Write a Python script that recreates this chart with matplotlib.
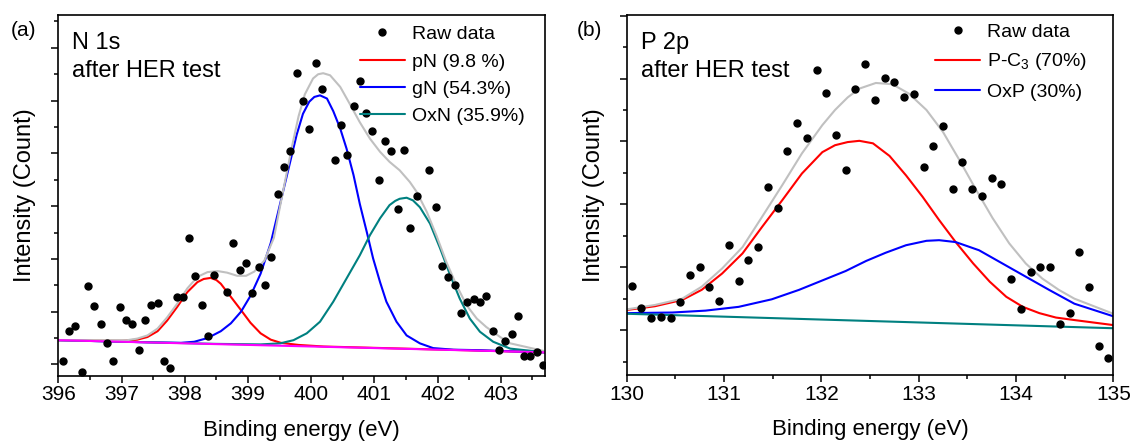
import matplotlib
matplotlib.use("Agg")
import matplotlib.pyplot as plt
from matplotlib.ticker import MultipleLocator, NullFormatter

plt.rcParams['font.family'] = ['Liberation Sans', 'DejaVu Sans']
plt.rcParams['mathtext.default'] = 'regular'

# ---------------- (a) N 1s ----------------
n_raw_x = [396.07, 396.17, 396.27, 396.37, 396.47, 396.57, 396.67, 396.77, 396.87, 396.97,
           397.07, 397.17, 397.27, 397.37, 397.47, 397.57, 397.67, 397.77, 397.87, 397.97,
           398.07, 398.17, 398.27, 398.37, 398.47, 398.67, 398.77, 398.87, 398.97, 399.07,
           399.17, 399.27, 399.37, 399.47, 399.57, 399.67, 399.77, 399.87, 399.97, 400.07,
           400.17, 400.37, 400.47, 400.57, 400.67, 400.77, 400.87, 400.97, 401.07, 401.17,
           401.27, 401.37, 401.47, 401.57, 401.67, 401.87, 401.97, 402.07, 402.17, 402.27,
           402.37, 402.47, 402.57, 402.67, 402.77, 402.87, 402.97, 403.07, 403.17, 403.27,
           403.37, 403.47, 403.57, 403.67]
n_raw_y = [0.06, 0.63, 0.73, -0.15, 1.48, 1.10, 0.77, 0.40, 0.07, 1.09,
           0.85, 0.76, 0.27, 0.85, 1.12, 1.16, 0.06, -0.07, 1.27, 1.28,
           2.40, 1.67, 1.12, 0.54, 1.70, 1.37, 2.31, 1.79, 1.92, 1.35,
           1.85, 1.51, 2.03, 3.24, 3.74, 4.04, 5.52, 4.99, 4.47, 5.71,
           5.23, 3.88, 4.53, 3.97, 4.90, 5.38, 4.77, 4.42, 3.49, 4.24,
           4.05, 2.94, 4.07, 2.58, 3.20, 3.69, 2.99, 1.87, 1.65, 1.50,
           0.97, 1.18, 1.24, 1.19, 1.30, 0.63, 0.27, 0.44, 0.57, 0.92,
           0.16, 0.16, 0.24, -0.01]

pn_x = [396.0, 397.0, 397.25, 397.41, 397.57, 397.72, 397.88, 398.04, 398.20, 398.30,
        398.41, 398.50, 398.57, 398.73, 398.89, 399.04, 399.20, 399.36, 399.52, 399.80,
        400.20, 403.70]
pn_y = [0.46, 0.45, 0.47, 0.52, 0.63, 0.83, 1.09, 1.37, 1.56, 1.62,
        1.64, 1.60, 1.53, 1.28, 1.03, 0.79, 0.59, 0.47, 0.41, 0.37,
        0.34, 0.23]

gn_x = [396.0, 397.4, 397.94, 398.15, 398.36, 398.57, 398.73, 398.89, 399.04, 399.20,
        399.36, 399.47, 399.56, 399.67, 399.77, 399.87, 399.97, 400.05, 400.14, 400.25,
        400.35, 400.46, 400.56, 400.67, 400.77, 400.88, 400.98, 401.09, 401.19, 401.35,
        401.51, 401.72, 401.93, 402.25, 402.67, 403.15, 403.70]
gn_y = [0.46, 0.42, 0.41, 0.43, 0.50, 0.63, 0.78, 1.00, 1.30, 1.72,
        2.30, 2.85, 3.30, 3.85, 4.35, 4.75, 4.98, 5.07, 5.10, 5.04,
        4.80, 4.47, 4.09, 3.59, 3.04, 2.51, 2.01, 1.56, 1.19, 0.81,
        0.55, 0.40, 0.31, 0.28, 0.27, 0.25, 0.23]

oxn_x = [396.0, 398.5, 399.2, 399.51, 399.72, 399.93, 400.14, 400.35, 400.56, 400.77,
         400.93, 401.09, 401.24, 401.33, 401.40, 401.51, 401.61, 401.72, 401.88, 402.04,
         402.20, 402.35, 402.51, 402.67, 402.88, 403.15, 403.70]
oxn_y = [0.46, 0.39, 0.38, 0.40, 0.46, 0.59, 0.81, 1.19, 1.63, 2.07,
         2.45, 2.77, 3.02, 3.10, 3.14, 3.16, 3.11, 2.98, 2.67, 2.20,
         1.69, 1.25, 0.87, 0.62, 0.43, 0.30, 0.23]

n_env_x = [396.0, 397.09, 397.25, 397.41, 397.57, 397.72, 397.88, 398.04, 398.20, 398.36,
           398.52, 398.67, 398.83, 398.97, 399.10, 399.26, 399.41, 399.50, 399.60, 399.70,
           399.80, 399.90, 400.03, 400.11, 400.19, 400.30, 400.46, 400.61, 400.77, 400.93,
           401.09, 401.24, 401.40, 401.56, 401.67, 401.83, 401.98, 402.14, 402.30, 402.46,
           402.62, 402.77, 402.99, 403.15, 403.70]
n_env_y = [0.46, 0.46, 0.49, 0.55, 0.68, 0.89, 1.15, 1.44, 1.66, 1.75,
           1.77, 1.74, 1.68, 1.68, 1.76, 1.97, 2.40, 2.95, 3.55, 4.15,
           4.70, 5.12, 5.42, 5.50, 5.52, 5.48, 5.26, 4.94, 4.59, 4.28,
           4.03, 3.84, 3.68, 3.46, 3.27, 2.89, 2.45, 1.94, 1.50, 1.12,
           0.87, 0.71, 0.52, 0.40, 0.25]

n_bg_x = [396.0, 403.7]
n_bg_y = [0.46, 0.23]

# ---------------- (b) P 2p ----------------
p_raw_x = [130.05, 130.15, 130.25, 130.35, 130.45, 130.55, 130.65, 130.75, 130.85, 130.95,
           131.05, 131.15, 131.25, 131.35, 131.45, 131.55, 131.65, 131.75, 131.85, 131.95,
           132.05, 132.15, 132.25, 132.35, 132.45, 132.55, 132.65, 132.75, 132.85, 132.95,
           133.05, 133.15, 133.25, 133.35, 133.45, 133.55, 133.65, 133.75, 133.85, 133.95,
           134.05, 134.15, 134.25, 134.35, 134.45, 134.55, 134.65, 134.75, 134.85, 134.95]
p_raw_y = [0.70, 0.35, 0.19, 0.21, 0.19, 0.44, 0.87, 1.00, 0.68, 0.47,
           1.35, 0.78, 1.11, 1.32, 2.27, 1.94, 2.85, 3.30, 3.06, 4.13,
           3.77, 3.11, 2.54, 3.83, 4.23, 3.66, 4.01, 3.95, 3.70, 3.75,
           2.59, 2.92, 3.25, 2.24, 2.68, 2.24, 2.14, 2.42, 2.33, 0.81,
           0.33, 0.92, 1.00, 1.00, 0.10, 0.28, 1.25, 0.68, -0.26, -0.44]

pc3_x = [130.0, 130.29, 130.57, 130.77, 130.98, 131.19, 131.39, 131.60, 131.80, 132.01,
         132.14, 132.27, 132.39, 132.53, 132.70, 132.87, 133.04, 133.21, 133.38, 133.56,
         133.73, 133.90, 134.07, 134.24, 134.41, 134.60, 135.0]
pc3_y = [0.32, 0.38, 0.48, 0.64, 0.90, 1.22, 1.64, 2.07, 2.49, 2.83,
         2.94, 2.99, 3.01, 2.97, 2.77, 2.46, 2.12, 1.75, 1.40, 1.06,
         0.77, 0.53, 0.37, 0.27, 0.20, 0.16, 0.08]

oxp_x = [130.0, 130.47, 130.81, 131.15, 131.49, 131.77, 132.01, 132.25, 132.46, 132.66,
         132.87, 133.08, 133.21, 133.38, 133.62, 133.86, 134.10, 134.34, 134.60, 135.0]
oxp_y = [0.27, 0.28, 0.31, 0.37, 0.49, 0.64, 0.79, 0.94, 1.10, 1.23,
         1.35, 1.42, 1.43, 1.40, 1.27, 1.06, 0.85, 0.64, 0.42, 0.22]

p_env_x = [130.0, 130.29, 130.57, 130.77, 130.98, 131.19, 131.39, 131.60, 131.80, 132.01,
           132.14, 132.27, 132.39, 132.56, 132.73, 132.90, 133.08, 133.25, 133.42, 133.59,
           133.76, 133.93, 134.10, 134.27, 134.44, 134.60, 135.0]
p_env_y = [0.33, 0.40, 0.50, 0.69, 0.98, 1.32, 1.80, 2.31, 2.81, 3.26,
           3.50, 3.70, 3.84, 3.93, 3.91, 3.76, 3.50, 3.15, 2.70, 2.23,
           1.78, 1.38, 1.06, 0.82, 0.64, 0.50, 0.26]

p_bg_x = [130.0, 135.0]
p_bg_y = [0.26, 0.03]

RED = '#ff0000'
BLUE = '#0000ff'
TEAL = '#008080'
MAGENTA = '#ff00ff'
GREY = '#c0c0c0'
LW = 1.5
line_kw = dict(lw=LW, solid_joinstyle='round', solid_capstyle='round')

fig = plt.figure(figsize=(11.35, 4.46), dpi=100)
ax1 = fig.add_axes([0.0514, 0.158, 0.4288, 0.808])
ax2 = fig.add_axes([0.5522, 0.159, 0.4287, 0.807])

# panel a
ax1.plot(pn_x, pn_y, color=RED, label='pN (9.8 %)', **line_kw)
ax1.plot(gn_x, gn_y, color=BLUE, label='gN (54.3%)', **line_kw)
ax1.plot(oxn_x, oxn_y, color=TEAL, label='OxN (35.9%)', **line_kw)
ax1.plot(n_env_x, n_env_y, color=GREY, **line_kw)
ax1.plot(n_bg_x, n_bg_y, color=MAGENTA, **line_kw)
ax1.plot(n_raw_x, n_raw_y, 'o', color='black', ms=5, ls='none',
         label='Raw data', zorder=5)
ax1.set_xlim(396, 403.7)
ax1.set_ylim(-0.21, 6.62)
ax1.xaxis.set_major_locator(MultipleLocator(1))
ax1.xaxis.set_minor_locator(MultipleLocator(0.5))
ax1.yaxis.set_major_locator(MultipleLocator(1))
ax1.yaxis.set_minor_locator(MultipleLocator(0.5))
ax1.text(0.028, 0.954, 'N 1s\nafter HER test', transform=ax1.transAxes,
         fontsize=17, va='top', ha='left', linespacing=1.35)
h, l = ax1.get_legend_handles_labels()
order = [3, 0, 1, 2]
ax1.legend([h[i] for i in order], [l[i] for i in order], loc='upper left',
           bbox_to_anchor=(0.62, 0.971), frameon=False, fontsize=14,
           handlelength=2.3, handletextpad=0.35, labelspacing=0.5,
           borderpad=0, borderaxespad=0, numpoints=1)

# panel b
ax2.plot(pc3_x, pc3_y, color=RED, label='P-C$_3$ (70%)', **line_kw)
ax2.plot(oxp_x, oxp_y, color=BLUE, label='OxP (30%)', **line_kw)
ax2.plot(p_env_x, p_env_y, color=GREY, **line_kw)
ax2.plot(p_bg_x, p_bg_y, color=TEAL, **line_kw)
ax2.plot(p_raw_x, p_raw_y, 'o', color='black', ms=5, ls='none',
         label='Raw data', zorder=5)
ax2.set_xlim(130, 135)
ax2.set_ylim(-0.715, 5.008)
ax2.xaxis.set_major_locator(MultipleLocator(1))
ax2.xaxis.set_minor_locator(MultipleLocator(0.5))
ax2.yaxis.set_major_locator(MultipleLocator(1))
ax2.yaxis.set_minor_locator(MultipleLocator(0.5))
ax2.text(0.029, 0.954, 'P 2p\nafter HER test', transform=ax2.transAxes,
         fontsize=17, va='top', ha='left', linespacing=1.35)
h, l = ax2.get_legend_handles_labels()
order = [2, 0, 1]
ax2.legend([h[i] for i in order], [l[i] for i in order], loc='upper left',
           bbox_to_anchor=(0.634, 0.978), frameon=False, fontsize=14,
           handlelength=2.3, handletextpad=0.35, labelspacing=0.55,
           borderpad=0, borderaxespad=0, numpoints=1)

for ax in (ax1, ax2):
    for s in ax.spines.values():
        s.set_linewidth(1.2)
    ax.tick_params(which='both', direction='out', top=False, right=False, width=1.1)
    ax.tick_params(which='major', length=5, labelsize=15, pad=2)
    ax.tick_params(which='minor', length=3)
    ax.yaxis.set_major_formatter(NullFormatter())
    ax.set_xlabel('Binding energy (eV)', fontsize=16, labelpad=11)
    ax.set_ylabel('Intensity (Count)', fontsize=17, labelpad=9)

fig.text(11 / 1135, 1 - 30 / 446, '(a)', fontsize=15, va='center', ha='left')
fig.text(577 / 1135, 1 - 30 / 446, '(b)', fontsize=15, va='center', ha='left')

fig.savefig('out.png', dpi=100)
